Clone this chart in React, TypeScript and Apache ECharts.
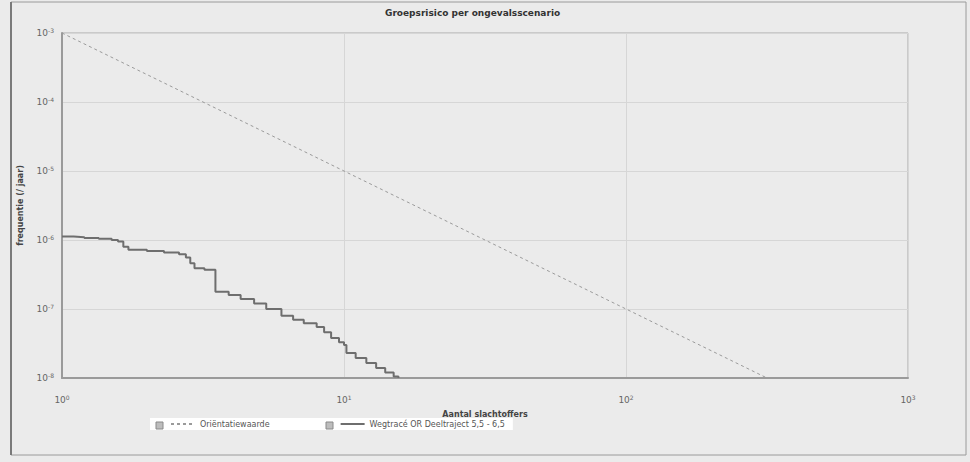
import React, { useEffect, useRef } from "react";
import * as echarts from "echarts";

const titleText = "Groepsrisico per ongevalsscenario";
const yAxisName = "frequentie (/ jaar)";
const xAxisName = "Aantal slachtoffers";
const seriesNames = ["Oriëntatiewaarde", "Wegtracé OR Deeltraject 5,5 - 6,5"];

// Oriëntatiewaarde (N, F)
const orientN = [1, 1000];
const orientF = [1e-3, 1e-9];

// F-N curve (N, F)
const fnN = [
  1.0, 1.1, 1.2, 1.35, 1.5, 1.58, 1.65, 1.72, 2.0, 2.3, 2.6, 2.75, 2.85, 2.95, 3.2, 3.5,
  3.5, 3.9, 4.3, 4.8, 5.3, 6.0, 6.6, 7.2, 8.0, 8.5, 9.0, 9.6, 10.0, 10.2, 11.0, 12.0,
  13.0, 14.0, 15.0, 15.6,
];
const fnF = [
  1.12e-6, 1.1e-6, 1.07e-6, 1.04e-6, 1.0e-6, 0.95e-6, 0.8e-6, 7.2e-7, 6.9e-7, 6.6e-7, 6.2e-7,
  5.6e-7, 4.6e-7, 3.9e-7, 3.7e-7, 3.5e-7, 1.78e-7, 1.6e-7, 1.4e-7, 1.2e-7, 1.0e-7, 8.0e-8,
  7.0e-8, 6.2e-8, 5.5e-8, 4.6e-8, 3.8e-8, 3.3e-8, 3.0e-8, 2.3e-8, 1.95e-8, 1.65e-8, 1.4e-8,
  1.2e-8, 1.05e-8, 1.0e-8,
];

const xMin = 1;
const xMax = 1000;
const yMin = 1e-8;
const yMax = 1e-3;

const powLabel = (v: number) => {
  const e = Math.round(Math.log10(v));
  return `10{s|${e}}`;
};

export default function App() {
  const ref = useRef<HTMLDivElement>(null);
  useEffect(() => {
    document.body.style.margin = "0";
    const chart = echarts.init(ref.current!, undefined, { renderer: "svg" });
    const labelRich = {
      s: { fontSize: 6, verticalAlign: "top", padding: [0, 0, 6, 0], color: "#666" },
    };
    chart.setOption({
      animation: false,
      backgroundColor: "#ebebeb",
      textStyle: { fontFamily: "DejaVu Sans, sans-serif" },
      title: {
        text: titleText,
        left: 380,
        top: 3,
        textStyle: { fontSize: 9, fontWeight: "bold", color: "#333" },
      },
      grid: {
        left: 62,
        right: 62,
        top: 33,
        bottom: 84,
        show: true,
        borderColor: "#a8a8a8",
        borderWidth: 1,
        backgroundColor: "transparent",
      },
      xAxis: {
        type: "log",
        logBase: 10,
        min: xMin,
        max: xMax,
        name: xAxisName,
        nameLocation: "middle",
        nameGap: 32,
        nameTextStyle: { fontSize: 8, fontWeight: "bold", color: "#444" },
        axisLine: { lineStyle: { color: "#9a9a9a", width: 2 } },
        axisTick: { show: false },
        splitLine: { show: true, lineStyle: { color: "#d6d6d6", width: 1 } },
        axisLabel: {
          formatter: powLabel,
          fontSize: 9,
          color: "#666",
          margin: 16,
          rich: labelRich,
        },
      },
      yAxis: {
        type: "log",
        logBase: 10,
        min: yMin,
        max: yMax,
        name: yAxisName,
        nameLocation: "middle",
        nameGap: 38,
        nameTextStyle: { fontSize: 8, fontWeight: "bold", color: "#444" },
        axisLine: { show: true, lineStyle: { color: "#9a9a9a", width: 2 } },
        axisTick: { show: false },
        splitLine: { show: true, lineStyle: { color: "#d6d6d6", width: 1 } },
        axisLabel: {
          formatter: powLabel,
          fontSize: 9,
          color: "#666",
          margin: 8,
          rich: labelRich,
        },
      },
      legend: {
        left: 150,
        top: 418,
        width: 370,
        backgroundColor: "#ffffff",
        padding: [2, 8, 2, 20],
        itemGap: 70,
        itemWidth: 24,
        itemHeight: 8,
        itemStyle: { opacity: 0 },
        textStyle: { fontSize: 8, color: "#555" },
        data: [seriesNames[0], seriesNames[1]],
      },
      graphic: [
        {
          type: "rect",
          shape: { x: 11, y: 2, width: 955, height: 453 },
          style: { fill: "none", stroke: "#9a9a9a", lineWidth: 1 },
          silent: true,
        },
        {
          type: "line",
          shape: { x1: 11, y1: 2, x2: 11, y2: 455 },
          style: { stroke: "#7a7a7a", lineWidth: 2 },
          silent: true,
        },
        {
          type: "rect",
          shape: { x: 156, y: 422, width: 7, height: 7 },
          style: { fill: "#bdbdbd", stroke: "#8a8a8a", lineWidth: 1 },
          silent: true,
          z: 100,
        },
        {
          type: "rect",
          shape: { x: 326, y: 422, width: 7, height: 7 },
          style: { fill: "#bdbdbd", stroke: "#8a8a8a", lineWidth: 1 },
          silent: true,
          z: 100,
        },
      ],
      series: [
        {
          name: seriesNames[0],
          type: "line",
          data: orientN.map((n, i) => [n, orientF[i]]),
          symbol: "none",
          clip: true,
          lineStyle: { color: "#9a9a9a", width: 1, type: [3, 3] },
          itemStyle: { color: "#9a9a9a" },
        },
        {
          name: seriesNames[1],
          type: "line",
          step: "end",
          data: fnN.map((n, i) => [n, fnF[i]]),
          symbol: "none",
          clip: true,
          lineStyle: { color: "#6e6e6e", width: 2 },
          itemStyle: { color: "#6e6e6e" },
        },
      ],
    });
    return () => chart.dispose();
  }, []);
  return (
    <div
      ref={ref}
      style={{ position: "absolute", left: 0, top: 0, width: 970, height: 462 }}
    />
  );
}
